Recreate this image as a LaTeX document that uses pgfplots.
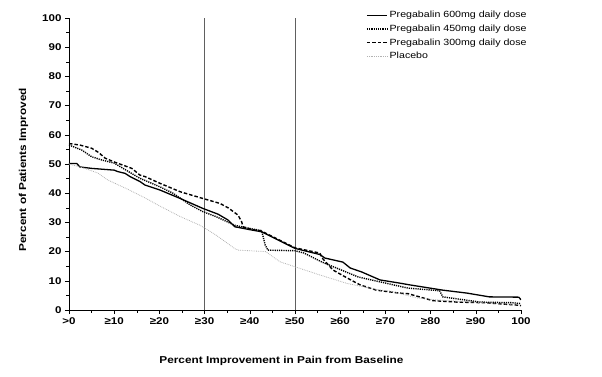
\documentclass[border=0pt]{standalone}
\usepackage{pgfplots}
\pgfplotsset{compat=1.18}
\usepackage{fontspec}
\setmainfont[FakeStretch=1.18]{Liberation Sans}
\begin{document}
\begin{tikzpicture}
\begin{axis}[
  scale only axis, width=452pt, height=292pt,
  xmin=0, xmax=100, ymin=0, ymax=100,
  axis lines=left,
  axis line style={-, line width=0.6pt, black},
  xtick={0,10,...,100},
  xticklabels={>0,≥10,≥20,≥30,≥40,≥50,≥60,≥70,≥80,≥90,100},
  ytick={0,10,...,100},
  minor x tick num=1, minor y tick num=1,
  tick align=outside,
  major tick length=4pt, minor tick length=2.5pt,
  tick style={black, line width=0.5pt},
  ticklabel style={font=\bfseries\fontsize{9.8}{11}\selectfont},
  /pgf/number format/assume math mode=true,
  xlabel={Percent Improvement in Pain from Baseline},
  ylabel={Percent of Patients Improved},
  xlabel style={font=\bfseries\fontsize{10}{12}\selectfont, at={(axis description cs:0.47,0)}, anchor=center, yshift=-51pt},
  ylabel style={font=\bfseries\fontsize{10}{12}\selectfont, at={(axis description cs:0,0.48)}, anchor=center, rotate=0, yshift=45.5pt},
  legend style={draw=none, fill=none, at={(axis description cs:0.655,1.034)}, anchor=north west,
    font=\fontsize{9}{10.5}\selectfont, row sep=1.6pt, inner sep=1pt,
    /tikz/every even column/.append style={column sep=0pt}},
  legend cell align=left,
  legend image code/.code={\draw[#1] (0pt,0pt) -- (20pt,0pt);},
]
\addplot[forget plot, gray!75!black, line width=0.7pt] coordinates {(30,0) (30,100)};
\addplot[forget plot, gray!75!black, line width=0.7pt] coordinates {(50,0) (50,100)};

% Pregabalin 600mg
\addplot[black, line width=1.3pt] coordinates {
(0,50.2) (1.7,50.2) (2.4,49) (5,48.5) (10,47.9) (10.8,47.4) (12.4,46.8) (13.5,45.7)
(15.7,44) (16.8,42.8) (20.1,41.1) (24.6,38.2) (29.6,34.8) (33,32.8) (35.2,30.8)
(36.7,28.5) (40.4,27.4) (42.6,26.8) (44.8,25.1) (47,23.4) (50,21.1) (55.5,19)
(56.6,17.8) (60.6,16.4) (62.2,14.4) (64.8,13) (68.8,10.3) (73.2,9.2) (75.4,8.6)
(82.7,6.8) (88,5.8) (93,4.5) (99.5,4.4) (100,3.5)};
\addlegendentry{Pregabalin 600mg daily dose}

% Pregabalin 450mg
\addplot[black, line width=1.4pt, dash pattern=on 1.2pt off 1pt] coordinates {
(0,56.5) (2.8,54.8) (5,52.5) (7.2,51.4) (10,50.3) (15.7,45.1) (20.1,42.2) (23,40)
(26.8,36) (29.6,33.7) (32.5,32) (36.7,29) (40.4,27.8) (42.6,27.2) (43.4,22.3)
(44,20.5) (50,20.3) (52,19.5) (56,16.4) (64,11.3) (75,7.5) (82,6.6) (82.7,4.5)
(91,2.7) (98,2.5) (100,2.2)};
\addlegendentry{Pregabalin 450mg daily dose}

% Pregabalin 300mg
\addplot[black, line width=1.4pt, dash pattern=on 3.5pt off 2pt] coordinates {
(0,57) (2.4,56.5) (5,55.4) (6.5,54) (8,52) (10,50.7) (13.9,48.5) (15.7,46.2)
(16.8,45.7) (20.1,43.4) (24.6,40.5) (29.6,38.2) (33.4,36.5) (35.2,35) (37.4,32.5)
(38.2,30.2) (38.5,28.5) (40.4,27.6) (42.6,27) (44.8,25.3) (47,23.6) (50,21.3)
(55.5,19.5) (56,17.8) (58.4,13.7) (61.5,11) (64.4,8.6) (68,6.8) (73,5.8) (75,5.6)
(80.5,3.2) (86,2.7) (92,2.5) (99,1.7) (100,1.5)};
\addlegendentry{Pregabalin 300mg daily dose}

% Placebo
\addplot[gray!60, line width=0.8pt, dash pattern=on 0.8pt off 1pt] coordinates {
(0,50) (3.5,48.5) (6.4,46.9) (8.6,44.5) (12.4,41.8) (16.8,38.4) (20.1,35.6)
(24.6,32) (29,29) (32.3,25.9) (36.7,21) (37.5,20.5) (43.5,20) (46.7,16.5) (50,14.8)
(55.5,12) (61.5,9.1) (68.8,6.8) (71,6.5) (77,4.1) (82,3.4) (93,2.4) (100,1.7)};
\addlegendentry{Placebo}
\end{axis}
\pgfresetboundingbox
\path[use as bounding box] (-69pt,-66pt) rectangle (533pt,310pt);
\end{tikzpicture}
\end{document}
